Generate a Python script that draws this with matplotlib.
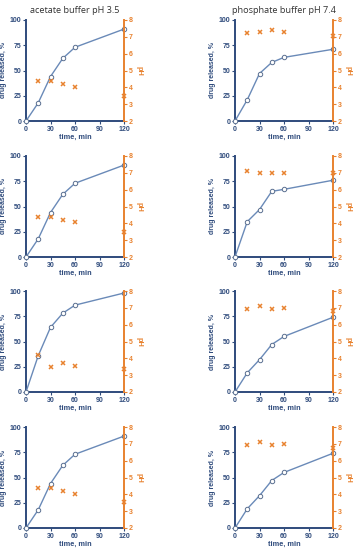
import matplotlib
matplotlib.use("Agg")
import matplotlib.pyplot as plt

plt.rcParams['font.family'] = ['Liberation Sans', 'DejaVu Sans']

titles = ["acetate buffer pH 3.5", "phosphate buffer pH 7.4"]
x_ticks = [0, 30, 60, 90, 120]
y_ticks = [0, 25, 50, 75, 100]
ph_ticks = [2, 3, 4, 5, 6, 7, 8]

# drug release curves (time, %)
t_drug_a = [0, 15, 30, 45, 60, 120]
t_ph = [15, 30, 45, 60, 120]

drug = [
    [[0, 18, 44, 62, 73, 91], [0, 21, 47, 58, 63, 71]],
    [[0, 18, 44, 62, 73, 91], [0, 35, 47, 65, 67, 76]],
    [[0, 36, 64, 78, 86, 98], [0, 19, 32, 47, 55, 74]],
    [[0, 18, 44, 62, 73, 91], [0, 19, 32, 47, 55, 74]],
]
ph = [
    [[4.4, 4.4, 4.2, 4.0, 3.5], [7.2, 7.27, 7.43, 7.3, 7.07]],
    [[4.4, 4.4, 4.2, 4.05, 3.5], [7.09, 6.97, 6.98, 6.98, 7.0]],
    [[4.22, 3.51, 3.75, 3.57, 3.37], [6.95, 7.13, 6.93, 6.99, 6.8]],
    [[4.4, 4.4, 4.17, 4.03, 3.53], [6.95, 7.13, 6.92, 7.0, 6.78]],
]

BLUE = '#2f4b7c'
LINE = '#6a8ab8'
ORANGE = '#e8822f'

W, H = 356, 550
fig = plt.figure(figsize=(W / 100, H / 100), dpi=100)
lefts = [26, 235]
tops = [20, 156, 291, 427]
aw, ah = 98, 101

for r in range(4):
    for c in range(2):
        ax = fig.add_axes([lefts[c] / W, 1 - (tops[r] + ah) / H, aw / W, ah / H])
        ax.plot(t_drug_a, drug[r][c], color=LINE, lw=1.0, marker='o', ms=3.2,
                mfc='white', mec='#5a6f90', mew=0.7, zorder=3, clip_on=False)
        ax.set_xlim(0, 120)
        ax.set_ylim(0, 100)
        ax.set_xticks(x_ticks)
        ax.set_yticks(y_ticks)
        for s in ['top', 'right']:
            ax.spines[s].set_visible(False)
        ax.spines['left'].set_color(BLUE)
        ax.spines['bottom'].set_color(BLUE)
        ax.spines['left'].set_linewidth(1.4)
        ax.spines['bottom'].set_linewidth(1.4)
        ax.tick_params(axis='both', colors=BLUE, labelsize=5, length=2, width=0.8, pad=1.5)
        for lbl in ax.get_xticklabels() + ax.get_yticklabels():
            lbl.set_fontweight('bold')
        ax.set_xlabel('time, min', fontsize=5.3, fontweight='bold', color=BLUE, labelpad=1)
        ax.set_ylabel('drug released, %', fontsize=5.0, fontweight='bold', color=BLUE, labelpad=1.5)
        ax.patch.set_alpha(0)

        ax2 = ax.twinx()
        ax2.plot(t_ph, ph[r][c], ls='none', marker='x', ms=3.5, mew=1.1, color=ORANGE,
                 zorder=4, clip_on=False)
        ax2.set_ylim(2, 8)
        ax2.set_yticks(ph_ticks)
        for s in ['top', 'left', 'bottom']:
            ax2.spines[s].set_visible(False)
        ax2.spines['right'].set_color(ORANGE)
        ax2.spines['right'].set_linewidth(1.4)
        ax2.tick_params(axis='y', colors=ORANGE, labelsize=5, length=2, width=0.8, pad=1.5)
        for lbl in ax2.get_yticklabels():
            lbl.set_fontweight('bold')
        ax2.set_ylabel('pH', fontsize=5.3, fontweight='bold', color=ORANGE, rotation=270, labelpad=7)

        if r == 0:
            ax.set_title(titles[c], fontsize=6.6, color='#333333', pad=5,
                         family=['Open Sans', 'DejaVu Sans'])

fig.savefig('out.png', dpi=100)
